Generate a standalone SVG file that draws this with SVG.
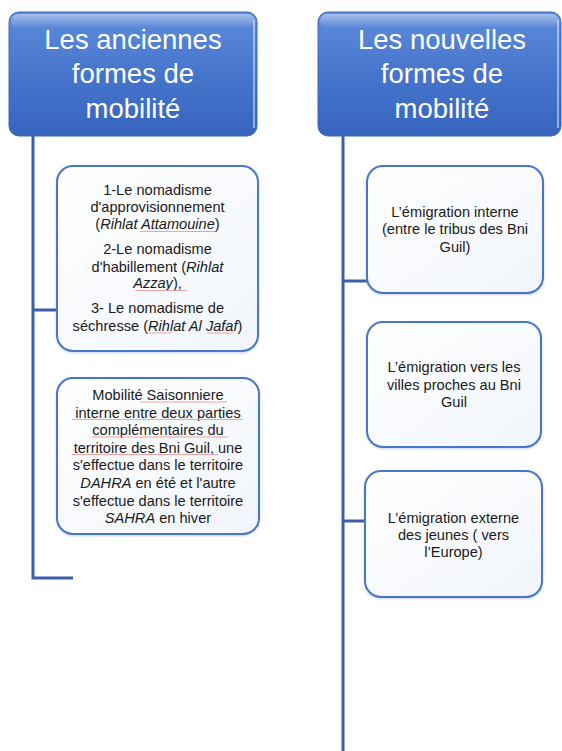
<svg xmlns="http://www.w3.org/2000/svg" width="562" height="751" viewBox="0 0 562 751">
<defs>
<linearGradient id="hdr" x1="0" y1="0" x2="0" y2="1">
<stop offset="0" stop-color="#5f8cdb"/>
<stop offset="0.5" stop-color="#4675cc"/>
<stop offset="1" stop-color="#3765be"/>
</linearGradient>
<linearGradient id="hl" x1="0" y1="0" x2="0" y2="1">
<stop offset="0" stop-color="#ffffff" stop-opacity="0.45"/>
<stop offset="1" stop-color="#ffffff" stop-opacity="0"/>
</linearGradient>
<linearGradient id="box" x1="0" y1="0" x2="1" y2="1">
<stop offset="0" stop-color="#ffffff"/>
<stop offset="1" stop-color="#f1f5fb"/>
</linearGradient>
<filter id="sh" x="-10%" y="-10%" width="120%" height="120%">
<feDropShadow dx="0" dy="1" stdDeviation="1" flood-color="#5a7fc4" flood-opacity="0.35"/>
</filter>
</defs>
<style>
.hdr{fill:url(#hdr);stroke:#3c68bd;stroke-width:1}
.hdrt{font-family:"Liberation Sans",Arial,sans-serif;font-size:27.5px;fill:#ffffff;text-anchor:middle}
.box{fill:url(#box);stroke:#4a77c8;stroke-width:2}
.t{font-family:"Liberation Sans",Arial,sans-serif;font-size:14.6px;fill:#1a1a1a;text-anchor:middle}
.i{font-style:italic}
.con{stroke:#3b5fa9;stroke-width:3;fill:none}
.faint{stroke:#d7e1f2;stroke-width:3;fill:none}
.sp{stroke:#f0a3a3;stroke-width:1;fill:none}
</style>

<g id="connectors">
<path class="con" d="M33 136 V578 H73"/>
<path class="con" d="M33 310 H57"/>
<path class="faint" d="M58 310 H73"/>
<path class="con" d="M343 136 V751"/>
<path class="con" d="M343 281 H367"/>
<path class="faint" d="M368 281 H383"/>
<path class="con" d="M343 521 H365"/>
<path class="faint" d="M366 521 H381"/>
</g>

<g id="header-anciennes">
<rect class="hdr" x="9" y="12" width="248" height="124" rx="10"/>
<rect x="11" y="14" width="244" height="14" rx="7" fill="url(#hl)"/>
<path d="M254 20 V128" stroke="#ffffff" stroke-opacity="0.6" stroke-width="1.5"/>
<text class="hdrt" x="133" y="49">Les anciennes</text>
<text class="hdrt" x="133" y="83">formes de</text>
<text class="hdrt" x="133" y="118">mobilité</text>
</g>

<g id="header-nouvelles">
<rect class="hdr" x="318" y="12" width="243" height="124" rx="10"/>
<rect x="320" y="14" width="239" height="14" rx="7" fill="url(#hl)"/>
<path d="M558 20 V128" stroke="#ffffff" stroke-opacity="0.6" stroke-width="1.5"/>
<text class="hdrt" x="442" y="49">Les nouvelles</text>
<text class="hdrt" x="442" y="83">formes de</text>
<text class="hdrt" x="442" y="118">mobilité</text>
</g>

<g id="nomadisme">
<rect class="box" filter="url(#sh)" x="57" y="166" width="201" height="185" rx="16"/>
<text class="t" x="157.5" y="195">1-Le nomadisme</text>
<text class="t" x="157.5" y="212.3">d'approvisionnement</text>
<text class="t" x="157.5" y="229.3">(<tspan class="i">Rihlat Attamouine</tspan>)</text>
<text class="t" x="157.5" y="254.3">2-Le nomadisme</text>
<text class="t" x="157.5" y="271.7">d'habillement (<tspan class="i">Rihlat</tspan></text>
<text class="t" x="157.5" y="288.3"><tspan class="i">Azzay</tspan>),</text>
<text class="t" x="157.5" y="313.3">3- Le nomadisme de</text>
<text class="t" x="157.5" y="330.7">séchresse (<tspan class="i">Rihlat Al Jafaf</tspan>)</text>
<path class="sp" d="M140 231.5 H215 M135 290.5 H187 M147 333 H172 M207 333 H233"/>
</g>

<g id="saisonniere">
<rect class="box" filter="url(#sh)" x="57" y="378" width="202" height="156" rx="16"/>
<text class="t" x="158" y="400">Mobilité Saisonniere</text>
<text class="t" x="158" y="417.6">interne entre deux parties</text>
<text class="t" x="158" y="435.2">complémentaires du</text>
<text class="t" x="158" y="452.8">territoire des Bni Guil, une</text>
<text class="t" x="158" y="470.4">s'effectue dans le territoire</text>
<text class="t" x="158" y="488"><tspan class="i">DAHRA</tspan> en été et l'autre</text>
<text class="t" x="158" y="505.6">s'effectue dans le territoire</text>
<text class="t" x="158" y="523.2"><tspan class="i">SAHRA</tspan> en hiver</text>
<path class="sp" d="M140 402 H227 M72 419.5 H243 M92 437 H228 M72 454.5 H218"/>
</g>

<g id="emigration-interne">
<rect class="box" filter="url(#sh)" x="367" y="166" width="176" height="127" rx="16"/>
<text class="t" x="455" y="216.7">L’émigration interne</text>
<text class="t" x="455" y="234">(entre le tribus des Bni</text>
<text class="t" x="455" y="251.7">Guil)</text>
</g>

<g id="emigration-villes">
<rect class="box" filter="url(#sh)" x="367" y="322" width="174" height="125" rx="16"/>
<text class="t" x="454" y="372.3">L’émigration vers les</text>
<text class="t" x="454" y="390">villes proches au Bni</text>
<text class="t" x="454" y="406.7">Guil</text>
</g>

<g id="emigration-externe">
<rect class="box" filter="url(#sh)" x="365" y="471" width="177" height="126" rx="16"/>
<text class="t" x="453.5" y="522.7">L’émigration externe</text>
<text class="t" x="453.5" y="540">des jeunes ( vers</text>
<text class="t" x="453.5" y="556.7">l’Europe)</text>
</g>
</svg>
